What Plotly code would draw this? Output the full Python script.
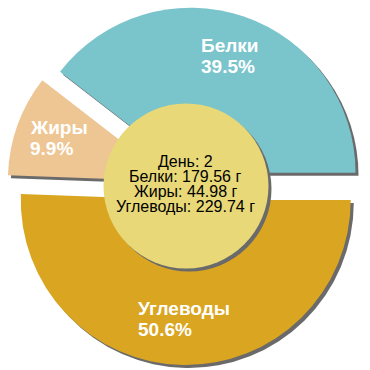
import math
import plotly.graph_objects as go

# ---------------- data ----------------
labels = ["Белки", "Жиры", "Углеводы"]
grams = [179.56, 44.98, 229.74]
percent_labels = ["39.5%", "9.9%", "50.6%"]
day_label = "День: 2"
colors = ["#7ac4cc", "#eec694", "#daa520"]

# ---------------- layout constants ----------------
W = H = 370
PIE_CX, PIE_CY = 186, 186      # pixel centre of the (unpulled) pie
PIE_R = 165                     # pixel radius
PULL = 0.085
SHADOW = 3                      # shadow offset in px
SHADOW_COLOR = "#6a6a6a"
CIRCLE_COLOR = "#e8d878"
LABEL_FONT = 19
CENTER_FONT = 16
FONT = "Liberation Sans, Arial, sans-serif"

half = PIE_R * (1 + PULL)
total = sum(grams)
# first slice starts at 3 o'clock and slices run counter-clockwise
rotation = 90 - 360 * grams[0] / total


def px_to_paper_x(x):
    return x / W


def px_to_paper_y(y):
    return 1 - y / H


def domain(dx=0, dy=0):
    return dict(
        x=[(PIE_CX - half + dx) / W, (PIE_CX + half + dx) / W],
        y=[(H - PIE_CY - half - dy) / H, (H - PIE_CY + half - dy) / H],
    )


common = dict(
    values=grams,
    labels=labels,
    sort=False,
    direction="counterclockwise",
    rotation=rotation,
    pull=[PULL] * len(grams),
    textinfo="none",
    hoverinfo="skip",
    showlegend=False,
)

fig = go.Figure()
fig.add_trace(go.Pie(**common, domain=domain(SHADOW, SHADOW),
                     marker=dict(colors=[SHADOW_COLOR] * len(grams), line=dict(width=0))))
fig.add_trace(go.Pie(**common, domain=domain(),
                     marker=dict(colors=colors, line=dict(width=0))))

# centre circle with shadow
rc = PIE_R / 2
shapes = []
for dx, col in [(SHADOW, SHADOW_COLOR), (0, CIRCLE_COLOR)]:
    shapes.append(dict(
        type="circle", xref="paper", yref="paper", layer="above",
        x0=px_to_paper_x(PIE_CX - rc + dx), x1=px_to_paper_x(PIE_CX + rc + dx),
        y0=px_to_paper_y(PIE_CY + rc + dx), y1=px_to_paper_y(PIE_CY - rc + dx),
        fillcolor=col, line=dict(width=0),
    ))

# approximate bold glyph widths (em) to left-align the two label lines
BOLD_W = {"Б": .72, "е": .556, "л": .6, "к": .55, "и": .6, "Ж": .95, "р": .611,
          "ы": .82, "У": .667, "г": .4, "в": .55, "о": .611, "д": .6,
          "%": .889, ".": .278}


def text_width(s, size):
    return sum(BOLD_W.get(c, .556) for c in s) * size


annotations = []
start = 0.0
line_gap = LABEL_FONT * 1.09
for name, g, pct in zip(labels, grams, percent_labels):
    span = 360 * g / total
    mid = math.radians(start + span / 2)
    start += span
    dist = PIE_R * PULL + PIE_R * 0.735
    px = PIE_CX + dist * math.cos(mid)
    py = PIE_CY - dist * math.sin(mid) - 2
    left = px - 2 - max(text_width(name, LABEL_FONT), text_width(pct, LABEL_FONT)) / 2
    for k, txt in enumerate([name, pct]):
        annotations.append(dict(
            x=px_to_paper_x(left), y=px_to_paper_y(py + (k - 0.5) * line_gap),
            xref="paper", yref="paper", xanchor="left", yanchor="middle",
            text=txt, showarrow=False,
            font=dict(family=FONT, size=LABEL_FONT, color="white", weight="bold"),
        ))

center_lines = [day_label] + [f"{n}: {g:.2f} г" for n, g in zip(labels, grams)]
c_gap = 15
for i, txt in enumerate(center_lines):
    annotations.append(dict(
        x=px_to_paper_x(PIE_CX - 1),
        y=px_to_paper_y(PIE_CY - 2 + (i - (len(center_lines) - 1) / 2) * c_gap),
        xref="paper", yref="paper", xanchor="center", yanchor="middle",
        text=txt, showarrow=False,
        font=dict(family=FONT, size=CENTER_FONT, color="black"),
    ))

fig.update_layout(
    width=W, height=H,
    margin=dict(l=0, r=0, t=0, b=0),
    paper_bgcolor="white", plot_bgcolor="white",
    shapes=shapes, annotations=annotations,
    showlegend=False,
)

fig.write_html(
    "out.html",
    config={"displayModeBar": False, "staticPlot": True},
    post_script="document.body.style.margin='0px';",
)
